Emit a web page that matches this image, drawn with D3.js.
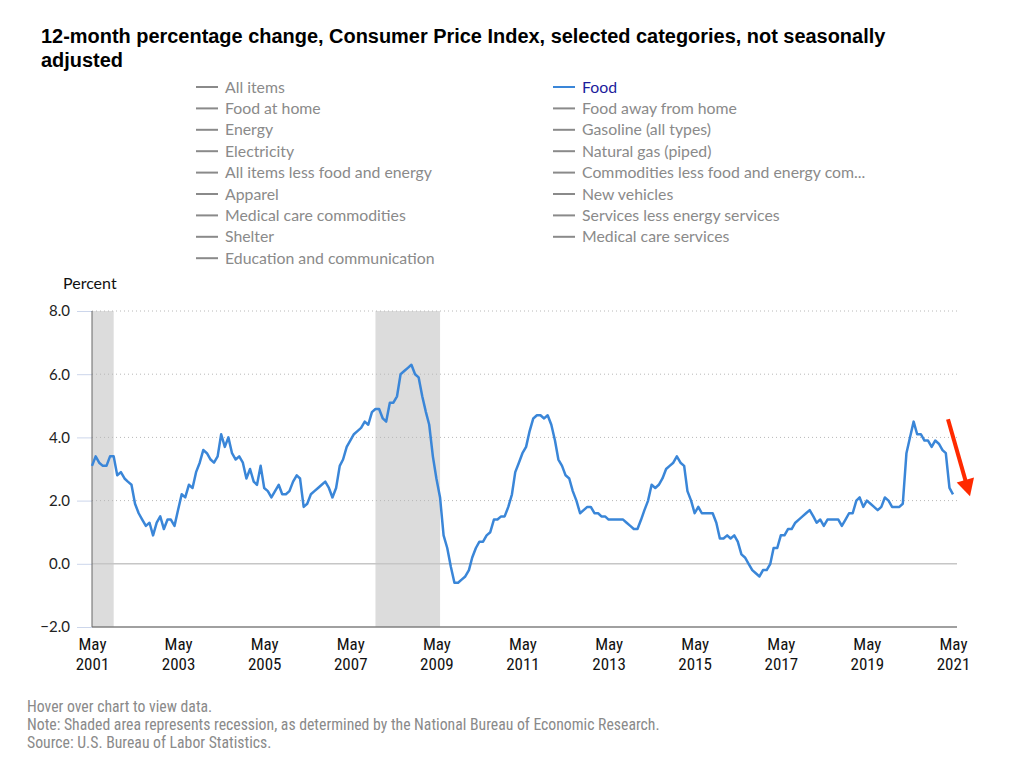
<!DOCTYPE html>
<html>
<head>
<meta charset="utf-8">
<script src="https://cdn.jsdelivr.net/npm/d3@7"></script>
<style>
  body { margin: 0; background: #fff; }
</style>
</head>
<body>
<svg></svg>
<script>
const w = 1024;
const h = 767;

// 12-month % change, CPI Food, monthly from May 2001 to May 2021
const startMonth = "2001-05";
const foodChange = [
  3.1, 3.4, 3.2, 3.1, 3.1, 3.4, 3.4, 2.8,                   // 2001 May-Dec
  2.9, 2.7, 2.6, 2.5, 1.9, 1.6, 1.4, 1.2, 1.3, 0.9, 1.3, 1.5, // 2002
  1.1, 1.4, 1.4, 1.2, 1.7, 2.2, 2.1, 2.5, 2.4, 2.9, 3.2, 3.6, // 2003
  3.5, 3.3, 3.2, 3.4, 4.1, 3.7, 4.0, 3.5, 3.3, 3.4, 3.2, 2.7, // 2004
  3.0, 2.6, 2.5, 3.1, 2.4, 2.3, 2.1, 2.3, 2.5, 2.2, 2.2, 2.3, // 2005
  2.6, 2.8, 2.7, 1.8, 1.9, 2.2, 2.3, 2.4, 2.5, 2.6, 2.4, 2.1, // 2006
  2.4, 3.1, 3.3, 3.7, 3.9, 4.1, 4.2, 4.3, 4.5, 4.4, 4.8, 4.9, // 2007
  4.9, 4.6, 4.5, 5.1, 5.1, 5.3, 6.0, 6.1, 6.2, 6.3, 6.0, 5.9, // 2008
  5.3, 4.8, 4.4, 3.4, 2.7, 2.1, 0.9, 0.5, -0.1, -0.6, -0.6, -0.5, // 2009
  -0.4, -0.2, 0.2, 0.5, 0.7, 0.7, 0.9, 1.0, 1.4, 1.4, 1.5, 1.5, // 2010
  1.8, 2.2, 2.9, 3.2, 3.5, 3.7, 4.2, 4.6, 4.7, 4.7, 4.6, 4.7, // 2011
  4.4, 3.9, 3.3, 3.1, 2.8, 2.7, 2.3, 2.0, 1.6, 1.7, 1.8, 1.8, // 2012
  1.6, 1.6, 1.5, 1.5, 1.4, 1.4, 1.4, 1.4, 1.4, 1.3, 1.2, 1.1, // 2013
  1.1, 1.4, 1.7, 2.0, 2.5, 2.4, 2.5, 2.7, 3.0, 3.1, 3.2, 3.4, // 2014
  3.2, 3.1, 2.3, 2.0, 1.6, 1.8, 1.6, 1.6, 1.6, 1.6, 1.3, 0.8, // 2015
  0.8, 0.9, 0.8, 0.9, 0.7, 0.3, 0.2, 0.0, -0.2, -0.3, -0.4, -0.2, // 2016
  -0.2, 0.0, 0.5, 0.5, 0.9, 0.9, 1.1, 1.1, 1.3, 1.4, 1.5, 1.6, // 2017
  1.7, 1.5, 1.3, 1.4, 1.2, 1.4, 1.4, 1.4, 1.4, 1.2, 1.4, 1.6, // 2018
  1.6, 2.0, 2.1, 1.8, 2.0, 1.9, 1.8, 1.7, 1.8, 2.1, 2.0, 1.8, // 2019
  1.8, 1.8, 1.9, 3.5, 4.0, 4.5, 4.1, 4.1, 3.9, 3.9, 3.7, 3.9, // 2020
  3.8, 3.6, 3.5, 2.4, 2.2                                    // 2021 Jan-May
];

const recessions = [["2001-03", "2001-11"], ["2007-12", "2009-06"]];

const legendLeft = [
  "All items", "Food at home", "Energy", "Electricity",
  "All items less food and energy", "Apparel", "Medical care commodities",
  "Shelter", "Education and communication"
];
const legendRight = [
  "Food", "Food away from home", "Gasoline (all types)", "Natural gas (piped)",
  "Commodities less food and energy com...", "New vehicles",
  "Services less energy services", "Medical care services"
];
const activeSeries = "Food";

const yTicks = [-2, 0, 2, 4, 6, 8];
const xTickYears = [2001, 2003, 2005, 2007, 2009, 2011, 2013, 2015, 2017, 2019, 2021];

const titleLines = [
  "12-month percentage change, Consumer Price Index, selected categories, not seasonally",
  "adjusted"
];
const notes = [
  "Hover over chart to view data.",
  "Note: Shaded area represents recession, as determined by the National Bureau of Economic Research.",
  "Source: U.S. Bureau of Labor Statistics."
];

const lineColor = "#3a86d8";
const labelFont = "Lato, 'Open Sans', sans-serif";
const narrowFont = "'Liberation Sans Narrow', 'Arial Narrow', 'Roboto Condensed', sans-serif";

const svg = d3.select("svg")
    .attr("width", w)
    .attr("height", h)
    .attr("viewBox", [0, 0, w, h]);

svg.append("rect").attr("width", w).attr("height", h).attr("fill", "white");

// shrink or grow a text so it spans the given width
function fitWidth(sel, target) {
    sel.each(function() {
        const len = this.getComputedTextLength();
        const fs = parseFloat(d3.select(this).attr("font-size"));
        d3.select(this).attr("font-size", (fs * target / len).toFixed(2));
    });
}

// title
const title = svg.append("g")
    .selectAll("text")
    .data(titleLines)
    .join("text")
    .attr("x", 41)
    .attr("y", (d, i) => 43 + i * 24)
    .attr("font-family", "'Liberation Sans', Arial, sans-serif")
    .attr("font-weight", "bold")
    .attr("font-size", 18)
    .attr("fill", "#000")
    .text(d => d);
fitWidth(title.filter((d, i) => i === 0), 845);
title.filter((d, i) => i === 1).attr("font-size", title.filter((d, i) => i === 0).attr("font-size"));

// legend
const legendRow = 21.4;
function drawLegend(items, x0) {
    const g = svg.append("g").attr("transform", `translate(${x0},87)`);
    const row = g.selectAll("g")
        .data(items)
        .join("g")
        .attr("transform", (d, i) => `translate(0,${i * legendRow})`);
    row.append("line")
        .attr("x1", 0).attr("x2", 22)
        .attr("stroke", d => d === activeSeries ? lineColor : "#8a8a8a")
        .attr("stroke-width", 2);
    return row.append("text")
        .attr("x", 29)
        .attr("dy", "0.35em")
        .attr("font-family", labelFont)
        .attr("font-size", 15)
        .attr("fill", d => d === activeSeries ? "#1c1c9c" : "#8a8a8a")
        .text(d => d);
}
const legL = drawLegend(legendLeft, 196);
const legR = drawLegend(legendRight, 553);
fitWidth(legL.filter(d => d === "All items less food and energy"), 207);
const legendFs = legL.filter(d => d === "All items less food and energy").attr("font-size");
legL.attr("font-size", legendFs);
legR.attr("font-size", legendFs);

// scales
const parseMonth = d3.timeParse("%Y-%m");
const start = parseMonth(startMonth);
const dates = d3.timeMonth.range(start, d3.timeMonth.offset(start, foodChange.length));
const data = dates.map((d, i) => ({ date: d, value: foodChange[i] }));

const x = d3.scaleTime()
    .domain([start, dates[dates.length - 1]])
    .range([92, 953]);
const y = d3.scaleLinear()
    .domain([-2, 8])
    .range([627, 311]);

// recession shading
svg.append("g")
    .selectAll("rect")
    .data(recessions)
    .join("rect")
    .attr("x", d => x(d3.max([parseMonth(d[0]), start])))
    .attr("width", d => x(parseMonth(d[1])) - x(d3.max([parseMonth(d[0]), start])))
    .attr("y", y(8))
    .attr("height", y(-2) - y(8))
    .attr("fill", "#dcdcdc");

// y axis: grid, ticks, labels
const yAxis = svg.append("g")
    .call(d3.axisLeft(y).tickValues(yTicks).tickFormat(d3.format(".1f")).tickSize(15).tickPadding(7))
    .attr("transform", "translate(92,0)");
yAxis.select(".domain").remove();
yAxis.selectAll(".tick line").attr("stroke", "#ccd6eb");
yAxis.selectAll(".tick text")
    .attr("font-family", labelFont)
    .attr("font-size", 15)
    .attr("fill", "#222");

svg.append("g")
    .selectAll("line")
    .data(yTicks.filter(d => d !== 0 && d !== -2))
    .join("line")
    .attr("x1", 92).attr("x2", 957)
    .attr("y1", d => y(d)).attr("y2", d => y(d))
    .attr("stroke", "#b8b8b8")
    .attr("stroke-width", 1)
    .attr("stroke-dasharray", "1,3");

svg.append("line")
    .attr("x1", 92).attr("x2", 957)
    .attr("y1", y(0)).attr("y2", y(0))
    .attr("stroke", "#c6c6c6")
    .attr("stroke-width", 1.5);

svg.append("text")
    .attr("x", 63)
    .attr("y", 289)
    .attr("font-family", labelFont)
    .attr("font-size", 16)
    .attr("fill", "#111")
    .text("Percent");

// x axis
const xAxis = svg.append("g")
    .attr("transform", `translate(0,${y(-2)})`)
    .call(d3.axisBottom(x)
        .tickValues(xTickYears.map(yr => new Date(yr, 4, 1)))
        .tickSize(0)
        .tickFormat(""));
xAxis.select(".domain").remove();
xAxis.selectAll(".tick").each(function(d) {
    const t = d3.select(this).append("text")
        .attr("text-anchor", "middle")
        .attr("font-family", narrowFont)
        .attr("font-size", 17)
        .attr("fill", "#111");
    t.append("tspan").attr("x", 0).attr("y", 23).text(d3.timeFormat("%b")(d));
    t.append("tspan").attr("x", 0).attr("y", 43).text(d3.timeFormat("%Y")(d));
});

svg.append("line")
    .attr("x1", 92).attr("x2", 957)
    .attr("y1", y(-2)).attr("y2", y(-2))
    .attr("stroke", "#808080")
    .attr("stroke-width", 1.5);
svg.append("line")
    .attr("x1", 92).attr("x2", 92)
    .attr("y1", y(8)).attr("y2", y(-2))
    .attr("stroke", "#666")
    .attr("stroke-width", 1);

// food line
const line = d3.line()
    .x(d => x(d.date))
    .y(d => y(d.value));

svg.append("path")
    .datum(data)
    .attr("d", line)
    .attr("fill", "none")
    .attr("stroke", lineColor)
    .attr("stroke-width", 2.5)
    .attr("stroke-linejoin", "round");

// red arrow pointing at the latest value
const last = data[data.length - 1];
const lx = x(last.date), ly = y(last.value);
const tail = [lx - 5, ly - 75];
const tip = [lx + 17, ly + 2];
const dx = tip[0] - tail[0], dy = tip[1] - tail[1];
const len = Math.hypot(dx, dy);
const ux = dx / len, uy = dy / len;
const headLen = 17, headHalf = 9;
const base = [tip[0] - ux * headLen, tip[1] - uy * headLen];

svg.append("line")
    .attr("x1", tail[0]).attr("y1", tail[1])
    .attr("x2", base[0] + ux * 2).attr("y2", base[1] + uy * 2)
    .attr("stroke", "#ff2a00")
    .attr("stroke-width", 4);
svg.append("polygon")
    .attr("points", [
        tip,
        [base[0] - uy * headHalf, base[1] + ux * headHalf],
        [base[0] + uy * headHalf, base[1] - ux * headHalf]
    ].map(p => p.join(",")).join(" "))
    .attr("fill", "#ff2a00");

// footer notes
const foot = svg.append("g")
    .selectAll("text")
    .data(notes)
    .join("text")
    .attr("x", 27)
    .attr("y", (d, i) => 712 + i * 18)
    .attr("font-family", narrowFont)
    .attr("font-size", 14)
    .attr("fill", "#8a8a8a")
    .text(d => d);
fitWidth(foot.filter((d, i) => i === 1), 633);
foot.attr("font-size", foot.filter((d, i) => i === 1).attr("font-size"));
</script>
</body>
</html>
